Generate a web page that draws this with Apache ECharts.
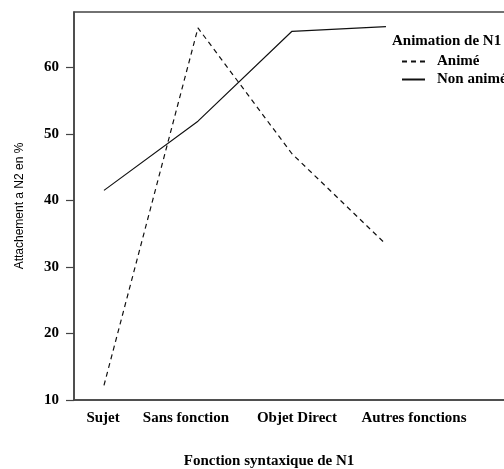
<!DOCTYPE html>
<html>
<head>
<meta charset="utf-8">
<script src="https://cdn.jsdelivr.net/npm/echarts@6/dist/echarts.min.js"></script>
<style>html,body{margin:0;padding:0;background:#fff}#c{width:504px;height:469px}</style>
</head>
<body>
<div id="c"></div>
<script>
const categories = ['Sujet', 'Sans fonction', 'Objet Direct', 'Autres fonctions'];
const anime = [12.2, 65.9, 47.0, 33.4];
const nonAnime = [41.5, 51.9, 65.4, 66.1];
const yTicks = [10, 20, 30, 40, 50, 60];
const seriesNames = ['Animé', 'Non animé'];
const legendTitle = 'Animation de N1';
const xTitle = 'Fonction syntaxique de N1';
const yTitle = 'Attachement a N2 en %';

// layout: where each category label is centred along the x axis (in category-index units)
const labelPos = [-0.01, 0.872, 2.053, 3.298];

const serif = '"Liberation Serif", "Times New Roman", serif';
const sans = '"Liberation Sans", Arial, sans-serif';
const axisCol = '#444';

const chart = echarts.init(document.getElementById('c'), null, {renderer: 'canvas'});
chart.setOption({
  animation: false,
  backgroundColor: '#fff',
  grid: {left: 74, top: 12, width: 446, height: 388, outerBoundsMode: 'none', containLabel: false,
         show: true, borderColor: axisCol, borderWidth: 1.5, backgroundColor: 'transparent'},
  title: {
    text: legendTitle, left: 387, top: 29,
    textStyle: {fontFamily: serif, fontWeight: 'bold', fontSize: 15, color: '#000'}
  },
  legend: {
    orient: 'vertical', left: 396, top: 49, itemWidth: 23, itemHeight: 10, itemGap: 3,
    data: seriesNames,
    itemStyle: {opacity: 0},
    textStyle: {fontFamily: serif, fontWeight: 'bold', fontSize: 15, color: '#000', padding: [0, 0, 0, 7]}
  },
  xAxis: {
    type: 'value', min: -0.319, max: 4.426,
    name: xTitle, nameLocation: 'middle', nameGap: 54,
    nameTextStyle: {fontFamily: serif, fontWeight: 'bold', fontSize: 15, color: '#000', padding: [0, 56, 0, 0]},
    axisLine: {show: true, onZero: false, lineStyle: {color: axisCol, width: 1.5}},
    axisTick: {show: false},
    splitLine: {show: false},
    axisLabel: {
      customValues: labelPos, margin: 11,
      fontFamily: serif, fontWeight: 'bold', fontSize: 15, color: '#000',
      formatter: v => { const i = labelPos.indexOf(v); return i >= 0 ? categories[i] : ''; }
    }
  },
  yAxis: {
    type: 'value', min: 10, max: 68.3,
    name: yTitle, nameLocation: 'middle', nameGap: 48,
    nameTextStyle: {fontFamily: sans, fontSize: 12, color: '#000'},
    axisLine: {show: true, onZero: false, lineStyle: {color: axisCol, width: 1.5}},
    axisTick: {show: true, length: 8, customValues: yTicks, lineStyle: {color: axisCol, width: 1.2}},
    splitLine: {show: false},
    axisLabel: {customValues: yTicks, margin: 15, fontFamily: serif, fontWeight: 'bold', fontSize: 15, color: '#000'}
  },
  series: [
    {
      name: seriesNames[0], type: 'line', symbol: 'none',
      data: anime.map((v, i) => [i, v]),
      lineStyle: {color: '#111', width: 1.2, type: [5, 4]},
      itemStyle: {color: '#111'}
    },
    {
      name: seriesNames[1], type: 'line', symbol: 'none',
      data: nonAnime.map((v, i) => [i, v]),
      lineStyle: {color: '#111', width: 1.2, type: 'solid'},
      itemStyle: {color: '#111'}
    }
  ]
});
</script>
</body>
</html>
